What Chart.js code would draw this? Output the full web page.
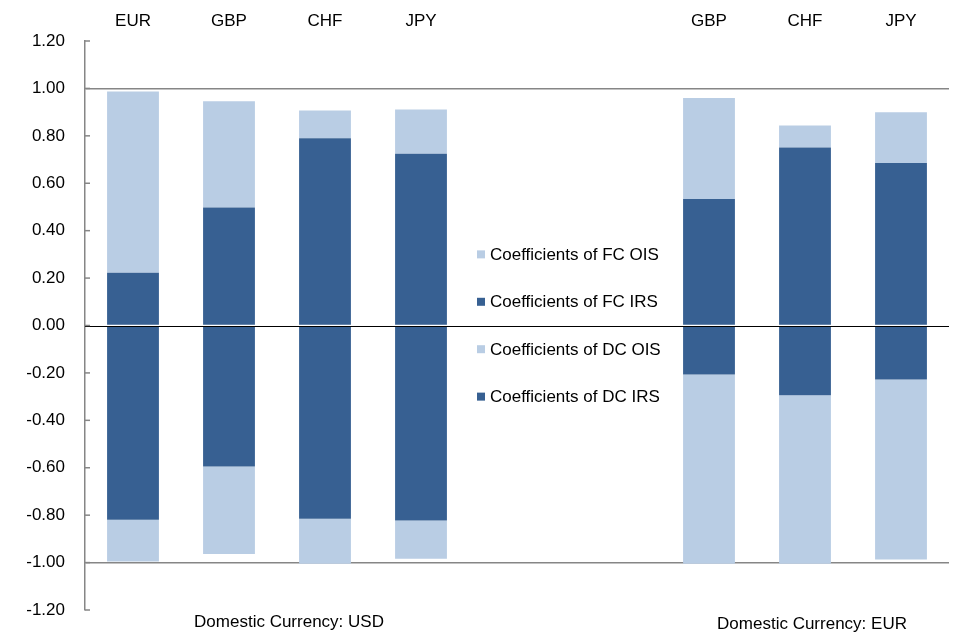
<!DOCTYPE html>
<html><head><meta charset="utf-8">
<script src="https://cdn.jsdelivr.net/npm/chart.js@4/dist/chart.umd.min.js"></script>
<style>html,body{margin:0;padding:0;background:#fff}#wrap{width:958px;height:641px;position:relative}</style>
</head><body><div id="wrap"><canvas id="c" width="958" height="641"></canvas></div>
<script>
const categories = ['EUR','GBP','CHF','JPY','','','GBP','CHF','JPY'];
const dcIRS = [-0.819,-0.595,-0.815,-0.822,null,null,-0.207,-0.294,-0.228];
const dcOIS = [-0.176,-0.369,-0.190,-0.162,null,null,-0.798,-0.711,-0.759];
const fcIRS = [0.222,0.498,0.790,0.724,null,null,0.534,0.751,0.685];
const fcOIS = [0.765,0.448,0.117,0.187,null,null,0.426,0.093,0.215];
const seriesNames = ['Coefficients of DC IRS','Coefficients of DC OIS','Coefficients of FC IRS','Coefficients of FC OIS'];
const groupLabels = ['Domestic Currency: USD','Domestic Currency: EUR'];
const legendOrder = [3,2,1,0];
const legendYValues = [0.3,0.1,-0.1,-0.3];

const DARK = '#376092', LIGHT = '#b9cde4', AXIS = '#868686';
const FONT = "'Liberation Sans', Arial, sans-serif";

const overlay = {
  id: 'overlay',
  afterDatasetsDraw(chart) {
    const ctx = chart.ctx, a = chart.chartArea, y = chart.scales.y, x = chart.scales.x;
    ctx.save();
    const y0 = Math.round(y.getPixelForValue(0)) + 0.5;
    ctx.strokeStyle = '#000'; ctx.lineWidth = 1;
    ctx.beginPath(); ctx.moveTo(a.left, y0); ctx.lineTo(a.right, y0); ctx.stroke();
    ctx.strokeStyle = AXIS; ctx.lineWidth = 1.5;
    y.ticks.forEach(t => {
      const py = y.getPixelForValue(t.value);
      ctx.beginPath(); ctx.moveTo(a.left, py); ctx.lineTo(a.left + 5, py); ctx.stroke();
    });
    ctx.font = '17px ' + FONT; ctx.textBaseline = 'middle'; ctx.textAlign = 'left';
    const lx = x.getPixelForValue(4) - 40;
    legendOrder.forEach((di, i) => {
      const ds = chart.data.datasets[di];
      const py = y.getPixelForValue(legendYValues[i]);
      ctx.fillStyle = ds.backgroundColor;
      ctx.fillRect(lx, py - 4, 8, 8);
      ctx.fillStyle = '#000';
      ctx.fillText(ds.label, lx + 13, py + 1);
    });
    ctx.textAlign = 'center';
    const gx1 = (x.getPixelForValue(1) + x.getPixelForValue(2)) / 2 + 12;
    const gx2 = x.getPixelForValue(7) + 7;
    ctx.fillText(groupLabels[0], gx1, a.bottom + 12);
    ctx.fillText(groupLabels[1], gx2, a.bottom + 14);
    ctx.restore();
  }
};

new Chart(document.getElementById('c'), {
  type: 'bar',
  data: {
    labels: categories,
    datasets: [
      {label: seriesNames[0], data: dcIRS, backgroundColor: DARK},
      {label: seriesNames[1], data: dcOIS, backgroundColor: LIGHT},
      {label: seriesNames[2], data: fcIRS, backgroundColor: DARK},
      {label: seriesNames[3], data: fcOIS, backgroundColor: LIGHT}
    ]
  },
  options: {
    responsive: false, animation: false, devicePixelRatio: 1,
    datasets: {bar: {barPercentage: 0.54, categoryPercentage: 1.0, borderWidth: 0}},
    layout: {padding: {left: 0, right: 9, top: 0, bottom: 31}},
    plugins: {legend: {display: false}, tooltip: {enabled: false}},
    scales: {
      x: {
        position: 'top', stacked: true,
        grid: {display: false, drawTicks: false},
        border: {display: false},
        ticks: {font: {family: FONT, size: 17}, color: '#000', padding: 9, maxRotation: 0, autoSkip: false},
        afterFit(s) { s.height = 41; }
      },
      y: {
        stacked: true, min: -1.2, max: 1.2,
        grid: {drawTicks: false, lineWidth: 1.5,
          color: c => (c.tick && Math.abs(Math.abs(c.tick.value) - 1) < 1e-6) ? AXIS : 'rgba(0,0,0,0)'},
        border: {color: AXIS, width: 1.5},
        ticks: {stepSize: 0.2, padding: 20, font: {family: FONT, size: 17}, color: '#000',
          callback: v => (Math.abs(v) < 1e-9 ? 0 : v).toFixed(2)},
        afterFit(s) { s.width = 85; }
      }
    }
  },
  plugins: [overlay]
});
</script></body></html>
